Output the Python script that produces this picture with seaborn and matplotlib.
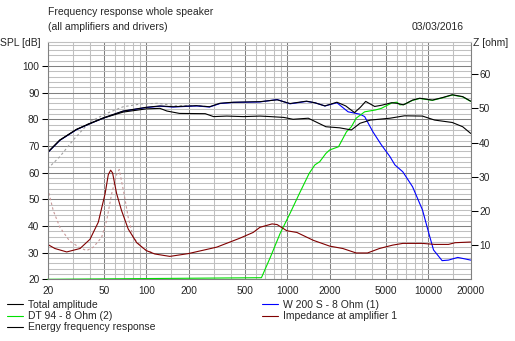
import numpy as np
import pandas as pd
import matplotlib
matplotlib.use("Agg")
import matplotlib.pyplot as plt
from matplotlib.ticker import FixedLocator, NullFormatter
import seaborn as sns

# ---- data -------------------------------------------------------------
total_f = [20, 24.4, 32, 40, 50, 68.6, 100, 125, 155, 227, 281, 333, 413, 640, 848,
           1046, 1370, 1570, 1850, 2250, 2600, 3000, 3300, 3600, 4170, 4700, 5480,
           6000, 6660, 7740, 8700, 10700, 12540, 14800, 17550, 20000]
total_db = [67.6, 72.2, 76.2, 78.5, 80.6, 83.1, 84.5, 85.0, 84.7, 85.1, 84.7, 86.0, 86.4,
            86.6, 87.3, 85.9, 86.8, 86.2, 85.0, 86.4, 85.0, 82.5, 84.5, 86.7, 84.8, 85.3,
            86.2, 86.0, 85.4, 87.2, 87.9, 87.2, 88.1, 89.2, 88.5, 86.8]

energy_f = [20, 24.4, 32, 40, 50, 68.6, 100, 125, 140, 172, 262, 300, 372, 489, 640, 762,
            944, 1100, 1410, 1880, 2350, 2850, 3280, 3880, 5350, 6780, 9100, 11100,
            14800, 17550, 20000]
energy_db = [67.6, 72.2, 76.2, 78.4, 80.5, 82.7, 83.9, 84.1, 83.1, 82.2, 82.1, 81.0, 81.2,
             81.0, 81.2, 81.0, 80.7, 80.0, 80.4, 77.2, 76.8, 76.0, 78.5, 79.7, 80.4, 81.3,
             81.2, 79.7, 78.8, 77.2, 74.7]

woofer_f = [20, 24.4, 32, 40, 50, 68.6, 100, 125, 155, 227, 281, 333, 413, 640, 848, 1046,
            1370, 1570, 1850, 2250, 2700, 3280, 3540, 4050, 4650, 5350, 5800, 6600, 7740,
            9100, 10100, 10900, 12540, 13900, 16200, 20000]
woofer_db = [67.5, 72.1, 76.1, 78.4, 80.5, 83.0, 84.4, 84.9, 84.6, 85.0, 84.6, 85.9, 86.3,
             86.5, 87.4, 85.8, 86.7, 86.2, 85.0, 86.2, 82.8, 81.9, 81.0, 75.3, 70.4, 66.0,
             62.9, 60.3, 54.7, 46.0, 37.2, 31.0, 27.0, 27.2, 28.2, 27.2]

tweeter_f = [20, 656, 762, 890, 1046, 1220, 1430, 1570, 1700, 1880, 2000, 2310, 2630, 2850,
             3080, 3540, 4230, 4650, 5550, 6000, 6300, 6780, 7740, 8700, 10700, 12540,
             14800, 17550, 20000]
tweeter_db = [20.0, 20.6, 28.5, 37.2, 44.7, 52.2, 59.7, 62.9, 64.1, 67.2, 68.5, 69.7, 75.3,
              77.2, 80.4, 82.8, 83.5, 84.1, 86.2, 86.4, 85.4, 85.6, 87.1, 87.8, 87.1, 88.0,
              89.1, 88.4, 86.7]

imp_f = [20, 22.5, 27.3, 33.9, 39.9, 45.7, 51.1, 53.8, 55.9, 57.7, 61.6, 66.8, 74.5, 85.6,
         100, 115, 147, 198, 316, 460, 573, 640, 780, 848, 992, 1170, 1530, 2000, 2480,
         3080, 3710, 4500, 5600, 6600, 9100, 11100, 13900, 15500, 20000]
imp_ohm = [10.2, 9.0, 8.0, 9.0, 11.7, 16.7, 25.1, 30.6, 31.9, 31.1, 25.1, 20.1, 14.7, 10.7,
           8.4, 7.4, 6.7, 7.5, 9.4, 12.0, 13.7, 15.2, 16.2, 16.0, 14.2, 13.7, 11.4, 9.7, 9.0,
           7.7, 7.7, 9.0, 10.0, 10.5, 10.5, 10.2, 10.2, 10.7, 10.9]

# reference (previous) curves, drawn dashed
ref_spl_f = [20, 24.4, 30.3, 39.9, 52.4, 68.6, 90.4, 121, 160, 227, 281]
ref_spl_db = [61.5, 66.0, 72.2, 79.1, 82.2, 84.7, 85.7, 86.0, 85.1, 85.1, 84.7]

ref_imp_f = [20, 21.9, 24.4, 28.6, 33.9, 37.8, 42.1, 48.2, 52.4, 56.9, 61.6, 64.3, 69.5,
             74.5, 80.8, 95, 110]
ref_imp_ohm = [26.6, 20.1, 15.2, 11.2, 9.2, 8.4, 9.4, 12.2, 17.2, 25.1, 30.6, 32.1, 25.1,
               18.1, 12.2, 9.0, 7.8]

x_major = [20, 50, 100, 200, 500, 1000, 2000, 5000, 10000, 20000]
x_minor = [30, 40, 60, 70, 80, 90, 150, 300, 400, 600, 700, 800, 900,
           1500, 3000, 4000, 6000, 7000, 8000, 9000, 15000]
spl_ticks = [20, 30, 40, 50, 60, 70, 80, 90, 100]
z_ticks = [10, 20, 30, 40, 50, 60]

# ---- style ------------------------------------------------------------
sns.set_style("white")
plt.rcParams["font.family"] = ["Liberation Sans", "DejaVu Sans"]
plt.rcParams["font.size"] = 7.5

W, H = 515, 341
fig = plt.figure(figsize=(W / 100, H / 100), dpi=100)
L, R, B, T = 47.7, 470.7, 279.3, 41.7
ax = fig.add_axes([L / W, 1 - B / H, (R - L) / W, (B - T) / H])
ax2 = ax.twinx()

LW = 0.8
MAJ, MIN = "#808080", "#c0c0c0"


def curve(axis, f, v, **kw):
    df = pd.DataFrame({"f": f, "v": v})
    sns.lineplot(data=df, x="f", y="v", ax=axis, estimator=None, sort=False, lw=LW, **kw)


curve(ax, ref_spl_f, ref_spl_db, color="#a0a0a0", linestyle=(0, (2.2, 2.2)))
curve(ax, woofer_f, woofer_db, color="#0000ff", label="W 200 S - 8 Ohm (1)")
curve(ax, tweeter_f, tweeter_db, color="#00e000", label="DT 94 - 8 Ohm (2)", clip_on=False)
curve(ax, energy_f, energy_db, color="black", label="Energy frequency response")
curve(ax, total_f, total_db, color="black", label="Total amplitude")
curve(ax2, ref_imp_f, ref_imp_ohm, color="#c89898", linestyle=(0, (2.2, 2.2)))
curve(ax2, imp_f, imp_ohm, color="#800000", label="Impedance at amplifier 1")

ax.set_xscale("log")
ax.set_xlim(20, 20000)
ax.set_ylim(20, 20 + (B - T) / 2.667)
ax2.set_ylim(0, (B - T) / 3.42)

ax.xaxis.set_major_locator(FixedLocator(x_major))
ax.xaxis.set_minor_locator(FixedLocator(x_minor))
ax.set_xticklabels([str(v) for v in x_major])
ax.xaxis.set_minor_formatter(NullFormatter())
ax.yaxis.set_major_locator(FixedLocator(spl_ticks))
ax.yaxis.set_minor_locator(FixedLocator([v for v in range(22, 110, 2) if v % 10]))
ax2.yaxis.set_major_locator(FixedLocator(z_ticks))

ax.set_axisbelow(True)
ax.grid(which="major", color=MAJ, lw=0.75)
ax.grid(which="minor", color=MIN, lw=0.75)
ax.tick_params(axis="x", which="both", length=0, pad=5, labelsize=7.3)
ax.tick_params(axis="y", which="major", length=4, width=0.75, pad=2, labelsize=7.3,
               left=True, color="black")
ax.tick_params(axis="y", which="minor", length=0)
ax2.tick_params(axis="y", which="major", length=5, width=0.75, pad=1, labelsize=7.3,
                right=True, color="black")
ax.set_xlabel("")
ax.set_ylabel("")
ax2.set_ylabel("")

for a in (ax, ax2):
    for side, sp in a.spines.items():
        sp.set_linewidth(0.75)
        sp.set_color(MIN if side == "top" else MAJ)
    if a.get_legend() is not None:
        a.get_legend().remove()

# ---- header text --------------------------------------------------------
fig.text(48 / W, 1 - 12 / H, "Frequency response whole speaker", va="center", ha="left")
fig.text(48 / W, 1 - 27.5 / H, "(all amplifiers and drivers)", va="center", ha="left")
fig.text(0.5 / W, 1 - 43 / H, "SPL [dB]", va="center", ha="left")
fig.text(464 / W, 1 - 27.5 / H, "03/03/2016", va="center", ha="right")
fig.text(473 / W, 1 - 43 / H, "Z [ohm]", va="center", ha="left")

# ---- legend -------------------------------------------------------------
h = {l.get_label(): l for l in ax.get_lines() + ax2.get_lines()}
common = dict(frameon=False, loc="upper left", borderpad=0, borderaxespad=0,
              handlelength=1.55, handletextpad=0.45, labelspacing=0.12, fontsize=7.5)
left_labels = ["Total amplitude", "DT 94 - 8 Ohm (2)", "Energy frequency response"]
right_labels = ["W 200 S - 8 Ohm (1)", "Impedance at amplifier 1"]
fig.legend([h[k] for k in left_labels], left_labels,
           bbox_to_anchor=(7 / W, 1 - 300 / H), **common)
fig.legend([h[k] for k in right_labels], right_labels,
           bbox_to_anchor=(262 / W, 1 - 300 / H), **common)

fig.savefig("out.png", dpi=100)
